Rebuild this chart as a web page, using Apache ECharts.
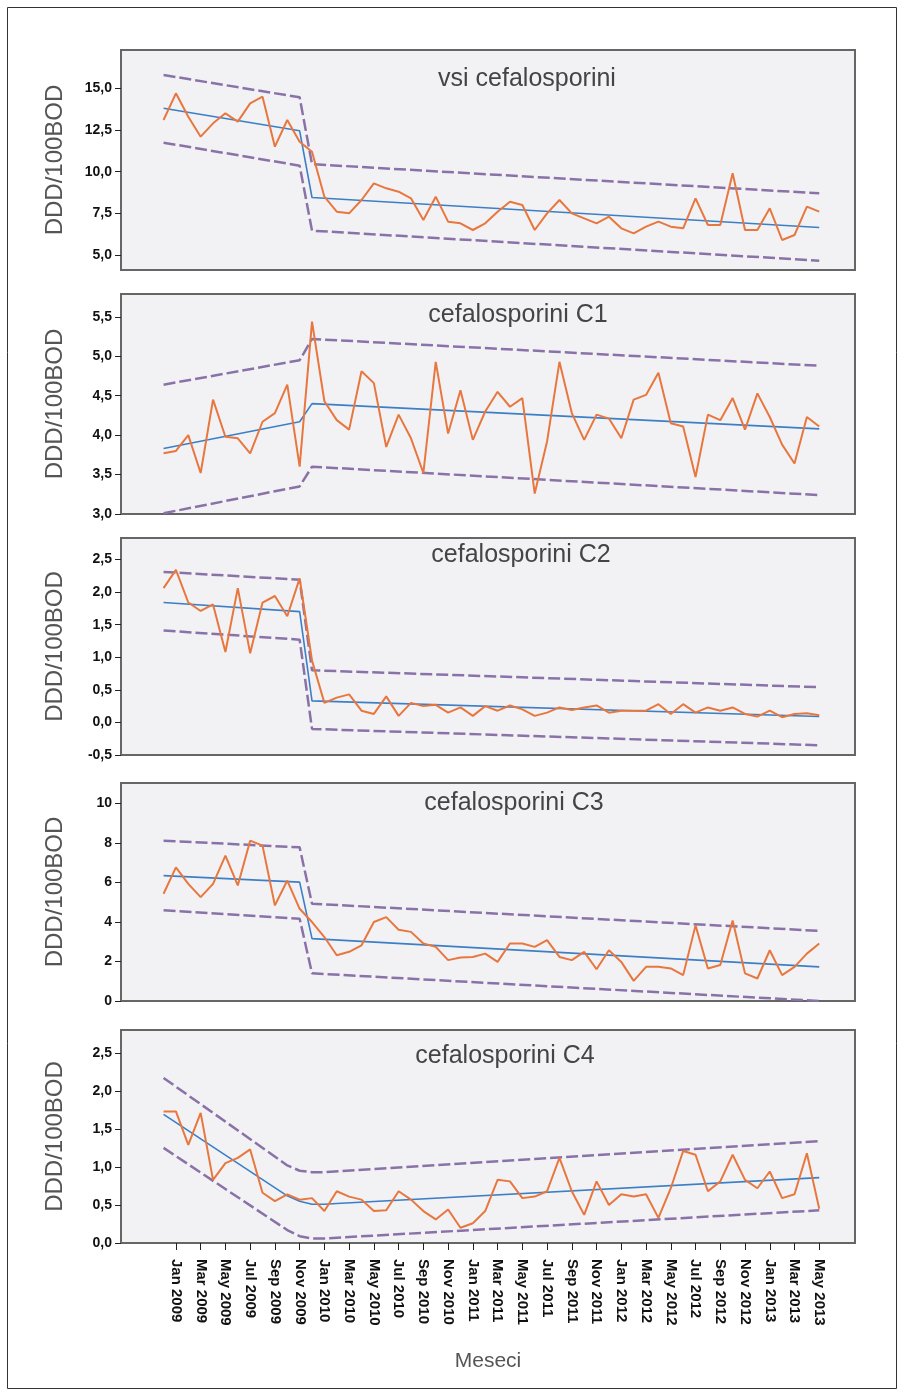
<!DOCTYPE html>
<html>
<head>
<meta charset="utf-8">
<script src="https://cdn.jsdelivr.net/npm/echarts@6/dist/echarts.min.js"></script>
<style>
html, body { margin: 0; padding: 0; background: #fff; }
#chart { width: 904px; height: 1396px; }
</style>
</head>
<body>
<div id="chart"></div>
<script>
// month index 0 = Dec 2008 ... 53 = May 2013, labels on odd months
var tickLabels = ['Jan 2009','Mar 2009','May 2009','Jul 2009','Sep 2009','Nov 2009',
	'Jan 2010','Mar 2010','May 2010','Jul 2010','Sep 2010','Nov 2010',
	'Jan 2011','Mar 2011','May 2011','Jul 2011','Sep 2011','Nov 2011',
	'Jan 2012','Mar 2012','May 2012','Jul 2012','Sep 2012','Nov 2012',
	'Jan 2013','Mar 2013','May 2013'];

var titles = ['vsi cefalosporini', 'cefalosporini C1', 'cefalosporini C2', 'cefalosporini C3', 'cefalosporini C4'];

// vsi cefalosporini
var obs1 = [13.1,14.7,13.3,12.1,12.9,13.5,13.0,14.1,14.5,11.5,13.1,11.8,11.2,8.5,7.6,7.5,8.3,9.3,9.0,8.8,
	8.4,7.1,8.5,7.0,6.9,6.5,6.9,7.6,8.2,8.0,6.5,7.5,8.3,7.5,7.2,6.9,7.3,6.6,6.3,6.7,
	7.0,6.7,6.6,8.4,6.8,6.8,9.9,6.5,6.5,7.8,5.9,6.2,7.9,7.6];
var fit1 = [[0,13.8],[11,12.45],[12,8.45],[53,6.65]];
var upper1 = [[0,15.8],[11,14.46],[12,10.45],[53,8.7]];
var lower1 = [[0,11.74],[11,10.36],[12,6.46],[53,4.66]];
var yTicks1 = [5,7.5,10,12.5,15];

// C1
var obs2 = [3.77,3.80,4.00,3.52,4.45,3.98,3.96,3.77,4.17,4.28,4.64,3.60,5.44,4.43,4.19,4.07,4.81,4.66,3.85,4.26,
	3.96,3.52,4.93,4.02,4.57,3.94,4.30,4.55,4.36,4.47,3.26,3.92,4.93,4.28,3.94,4.26,4.21,3.96,4.45,4.51,
	4.79,4.15,4.11,3.47,4.26,4.19,4.47,4.07,4.53,4.23,3.88,3.64,4.23,4.11];
var fit2 = [[0,3.83],[11,4.17],[12,4.40],[53,4.08]];
var upper2 = [[0,4.64],[11,4.95],[12,5.22],[53,4.88]];
var lower2 = [[0,3.01],[11,3.35],[12,3.60],[53,3.24]];
var yTicks2 = [3,3.5,4,4.5,5,5.5];

// C2
var obs3 = [2.06,2.34,1.84,1.71,1.81,1.08,2.06,1.06,1.84,1.94,1.63,2.21,0.95,0.30,0.38,0.43,0.18,0.13,0.40,0.10,
	0.30,0.25,0.27,0.15,0.23,0.10,0.25,0.18,0.26,0.20,0.10,0.15,0.23,0.19,0.23,0.26,0.15,0.18,0.18,0.18,
	0.28,0.13,0.28,0.15,0.23,0.18,0.23,0.13,0.09,0.18,0.08,0.13,0.14,0.11];
var fit3 = [[0,1.84],[11,1.70],[12,0.33],[53,0.09]];
var upper3 = [[0,2.31],[11,2.19],[12,0.80],[53,0.54]];
var lower3 = [[0,1.41],[11,1.27],[12,-0.10],[53,-0.35]];
var yTicks3 = [-0.5,0,0.5,1,1.5,2,2.5];

// C3
var obs4 = [5.43,6.77,5.93,5.26,5.93,7.36,5.85,8.12,7.87,4.84,6.10,4.67,4.00,3.24,2.32,2.49,2.82,4.00,4.25,3.61,
	3.50,2.91,2.74,2.07,2.20,2.23,2.40,1.98,2.91,2.91,2.74,3.08,2.23,2.07,2.49,1.61,2.57,1.98,1.02,1.73,
	1.73,1.65,1.31,3.83,1.65,1.82,4.08,1.40,1.14,2.57,1.31,1.73,2.40,2.91];
var fit4 = [[0,6.35],[11,6.02],[12,3.16],[53,1.73]];
var upper4 = [[0,8.12],[11,7.78],[12,4.93],[53,3.55]];
var lower4 = [[0,4.59],[11,4.17],[12,1.40],[53,0.0]];
var yTicks4 = [0,2,4,6,8,10];

// C4
var obs5 = [1.73,1.73,1.29,1.71,0.83,1.05,1.12,1.23,0.66,0.55,0.64,0.57,0.59,0.42,0.68,0.61,0.57,0.42,0.43,0.68,
	0.57,0.42,0.31,0.44,0.20,0.26,0.42,0.83,0.81,0.59,0.61,0.68,1.12,0.68,0.37,0.81,0.50,0.64,0.61,0.64,
	0.33,0.72,1.21,1.16,0.68,0.81,1.16,0.83,0.72,0.94,0.59,0.64,1.18,0.45];
var fit5 = [[0,1.69],[10,0.62],[11,0.55],[12,0.51],[13,0.51],[14,0.52],[53,0.86]];
var upper5 = [[0,2.17],[10,1.02],[11,0.95],[12,0.93],[13,0.93],[53,1.34]];
var lower5 = [[0,1.25],[10,0.17],[11,0.09],[12,0.06],[13,0.06],[53,0.43]];
var yTicks5 = [0,0.5,1,1.5,2,2.5];

var panels = [
	{obs: obs1, fit: fit1, up: upper1, lo: lower1, ticks: yTicks1, min: 4.1, max: 17.3, top: 50, height: 220, tx: 527, ty: 80, dec: 1},
	{obs: obs2, fit: fit2, up: upper2, lo: lower2, ticks: yTicks2, min: 3.0, max: 5.79, top: 294, height: 220, tx: 518, ty: 316, dec: 1},
	{obs: obs3, fit: fit3, up: upper3, lo: lower3, ticks: yTicks3, min: -0.5, max: 2.83, top: 538, height: 217, tx: 521, ty: 556, dec: 1},
	{obs: obs4, fit: fit4, up: upper4, lo: lower4, ticks: yTicks4, min: 0, max: 11.04, top: 783, height: 218, tx: 514, ty: 804, dec: 0},
	{obs: obs5, fit: fit5, up: upper5, lo: lower5, ticks: yTicks5, min: 0, max: 2.8, top: 1030, height: 213, tx: 505, ty: 1057, dec: 1}
];

var xTicks = tickLabels.map(function (t, k) { return 1 + 2 * k; });

var orange = '#e8773f', blue = '#3c7fc6', purple = '#8a72a8';
var font = 'Liberation Sans, Arial, sans-serif';

function init(objId) {
	var dom = document.getElementById(objId);
	var myChart = echarts.init(dom, null, {renderer: 'canvas'});
	var grid = [], xAxis = [], yAxis = [], series = [], title = [];

	panels.forEach(function (p, n) {
		var last = n === panels.length - 1;
		grid.push({
			left: 121, width: 734, top: p.top, height: p.height,
			show: true, backgroundColor: '#f2f2f4', borderColor: '#666', borderWidth: 2
		});
		xAxis.push({
			type: 'value', gridIndex: n, min: -3.44, max: 55.89,
			splitLine: {show: false},
			axisLine: {show: false, onZero: false},
			axisTick: {show: last, length: 7, lineStyle: {color: '#222'}, customValues: xTicks},
			axisLabel: {
				show: last, rotate: -90, margin: 16, customValues: xTicks,
				fontFamily: font, fontSize: 15, fontWeight: 'bold', color: '#111',
				formatter: function (v) { return tickLabels[(v - 1) / 2]; }
			},
			name: last ? 'Meseci' : '', nameLocation: 'middle', nameGap: 108,
			nameTextStyle: {fontFamily: font, fontSize: 21, color: '#555'}
		});
		yAxis.push({
			type: 'value', gridIndex: n, min: p.min, max: p.max,
			splitLine: {show: false},
			axisLine: {show: false, onZero: false},
			axisTick: {show: true, length: 6, lineStyle: {color: '#222'}, customValues: p.ticks},
			axisLabel: {
				margin: 9, customValues: p.ticks,
				fontFamily: font, fontSize: 14, fontWeight: 'bold', color: '#111',
				formatter: function (v) { return v.toFixed(p.dec).replace('.', ','); }
			},
			name: 'DDD/100BOD', nameLocation: 'middle', nameGap: 54, nameRotate: 90,
			nameTextStyle: {fontFamily: font, fontSize: 24, color: '#555'}
		});
		title.push({
			text: titles[n], left: p.tx, top: p.ty - 13, textAlign: 'center', padding: 0,
			textStyle: {fontFamily: font, fontSize: 25, fontWeight: 'normal', color: '#444'}
		});
		var dashed = {color: purple, width: 2.5, type: [12, 4]};
		series.push(
			{type: 'line', xAxisIndex: n, yAxisIndex: n, data: p.lo, symbol: 'none', lineStyle: dashed, z: 2},
			{type: 'line', xAxisIndex: n, yAxisIndex: n, data: p.up, symbol: 'none', lineStyle: dashed, z: 2},
			{type: 'line', xAxisIndex: n, yAxisIndex: n, data: p.fit, symbol: 'none', lineStyle: {color: blue, width: 1.6}, z: 3},
			{type: 'line', xAxisIndex: n, yAxisIndex: n, data: p.obs.map(function (v, i) { return [i, v]; }),
				symbol: 'none', lineStyle: {color: orange, width: 2}, z: 4}
		);
	});

	var option = {
		animation: false,
		title: title,
		grid: grid,
		xAxis: xAxis,
		yAxis: yAxis,
		series: series,
		graphic: [{
			type: 'rect', shape: {x: 7.5, y: 7.5, width: 889, height: 1381},
			style: {fill: 'none', stroke: '#333', lineWidth: 1}, silent: true
		}]
	};
	myChart.setOption(option, true);
	return myChart;
}

init('chart');
</script>
</body>
</html>
